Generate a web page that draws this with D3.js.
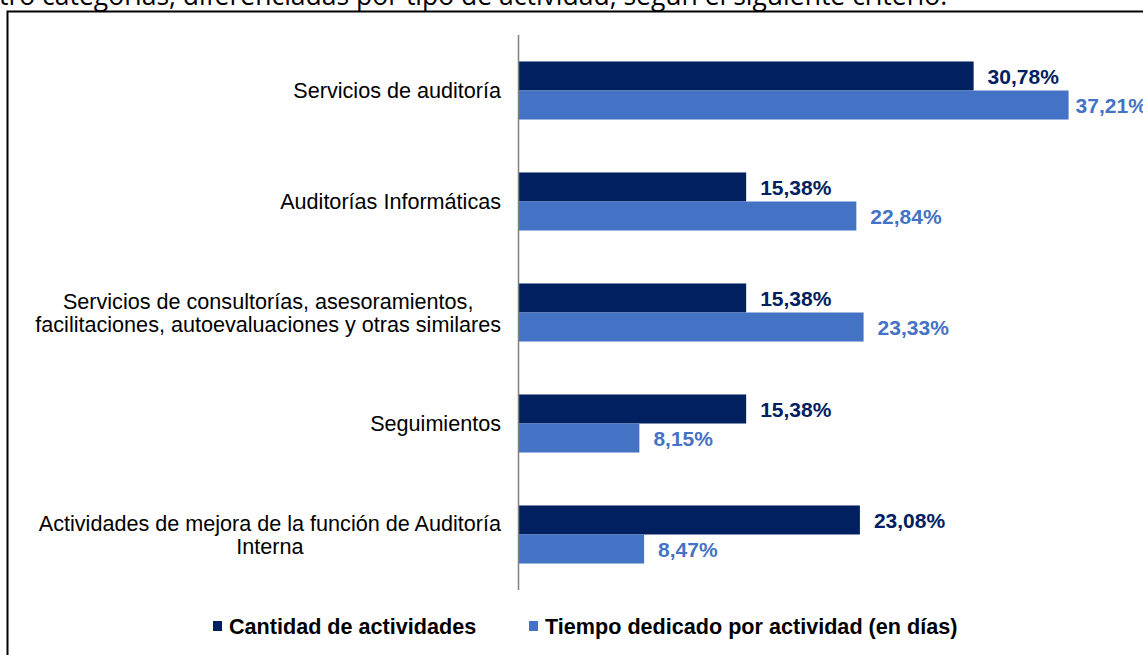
<!DOCTYPE html>
<html>
<head>
<meta charset="utf-8">
<script src="https://cdn.jsdelivr.net/npm/d3@7"></script>
<style>
  body { margin: 0; background: #fff; overflow: hidden; }
  text { font-family: "Liberation Sans", Arial, sans-serif; }
</style>
</head>
<body>
<div id="vis"></div>
<script>
const categories = [
  'Servicios de auditoría',
  'Auditorías Informáticas',
  'Servicios de consultorías, asesoramientos,\nfacilitaciones, autoevaluaciones y otras similares',
  'Seguimientos',
  'Actividades de mejora de la función de Auditoría\nInterna'
];
const seriesNames = ['Cantidad de actividades', 'Tiempo dedicado por actividad (en días)'];
const cantidad = [30.78, 15.38, 15.38, 15.38, 23.08];
const tiempo = [37.21, 22.84, 23.33, 8.15, 8.47];
const colors = ['#002060', '#4472C4'];

const width = 1143, height = 655;

const svg = d3.select('#vis')
    .append('svg')
    .attr('width', width)
    .attr('height', height);

// texto del documento, cortado arriba
svg.append('text')
    .attr('x', -1)
    .attr('y', 5)
    .style('font-family', '"Open Sans", sans-serif')
    .style('font-size', '26.5px')
    .style('fill', '#000')
    .text('tro categorías, diferenciadas por tipo de actividad, según el siguiente criterio:');

// marco
svg.append('rect')
    .attr('x', 7.5)
    .attr('y', 11.5)
    .attr('width', 1200)
    .attr('height', 700)
    .attr('fill', 'none')
    .attr('stroke', '#000')
    .attr('stroke-width', 2);

const data = categories.map((c, i) => ({cat: c, values: [cantidad[i], tiempo[i]]}));

const xScale = d3.scaleLinear()
    .domain([0, 40])
    .range([519, 519 + 40 * 14.77]);

const y0 = d3.scaleBand()
    .domain(categories)
    .range([35, 590])
    .paddingInner(0.477)
    .paddingOuter(0.2385);

const y1 = d3.scaleBand()
    .domain([0, 1])
    .range([0, y0.bandwidth()]);

const fmt = v => v.toFixed(2).replace('.', ',') + '%';

const groups = svg.selectAll('.group')
    .data(data)
    .join('g')
    .attr('class', 'group')
    .attr('transform', d => `translate(0,${y0(d.cat)})`);

groups.selectAll('rect')
    .data(d => d.values)
    .join('rect')
    .attr('x', xScale(0))
    .attr('y', (d, i) => y1(i))
    .attr('width', d => xScale(d) - xScale(0))
    .attr('height', y1.bandwidth())
    .attr('fill', (d, i) => colors[i]);

// la etiqueta más larga se acerca a la barra para caber
groups.selectAll('.val')
    .data(d => d.values)
    .join('text')
    .attr('class', 'val')
    .attr('x', d => xScale(d) + (xScale(d) > 1000 ? 7 : 14))
    .attr('y', (d, i) => y1(i) + y1.bandwidth() / 2)
    .attr('dy', '0.36em')
    .style('font-size', '21px')
    .style('font-weight', 'bold')
    .style('fill', (d, i) => i === 0 ? '#002060' : '#4472C4')
    .text(fmt);

// eje vertical
svg.append('line')
    .attr('x1', xScale(0) - 0.5)
    .attr('x2', xScale(0) - 0.5)
    .attr('y1', 35)
    .attr('y2', 590)
    .attr('stroke', '#7f7f7f')
    .attr('stroke-width', 1.5);

// etiquetas de categorías (centradas, alineadas a la derecha del bloque)
const labelRight = 501;
const lineH = 23;
categories.forEach(c => {
    const lines = c.split('\n');
    const g = svg.append('g');
    const texts = lines.map((l, j) => g.append('text')
        .attr('y', y0(c) + y0.bandwidth() / 2 + (j - (lines.length - 1) / 2) * lineH)
        .attr('dy', '0.36em')
        .attr('text-anchor', 'middle')
        .style('font-size', '21.6px')
        .style('fill', '#000')
        .text(l));
    const maxW = d3.max(texts, t => t.node().getComputedTextLength());
    texts.forEach(t => t.attr('x', labelRight - maxW / 2));
});

// leyenda
const legendX = [213, 529];
const legend = svg.selectAll('.legend')
    .data(seriesNames)
    .join('g')
    .attr('class', 'legend')
    .attr('transform', (d, i) => `translate(${legendX[i]},626)`);

legend.append('rect')
    .attr('x', 0)
    .attr('y', -5)
    .attr('width', 9)
    .attr('height', 10)
    .attr('fill', (d, i) => colors[i]);

legend.append('text')
    .attr('x', 16)
    .attr('dy', '0.36em')
    .style('font-size', '21.6px')
    .style('font-weight', 'bold')
    .style('fill', '#000')
    .text(d => d);
</script>
</body>
</html>
